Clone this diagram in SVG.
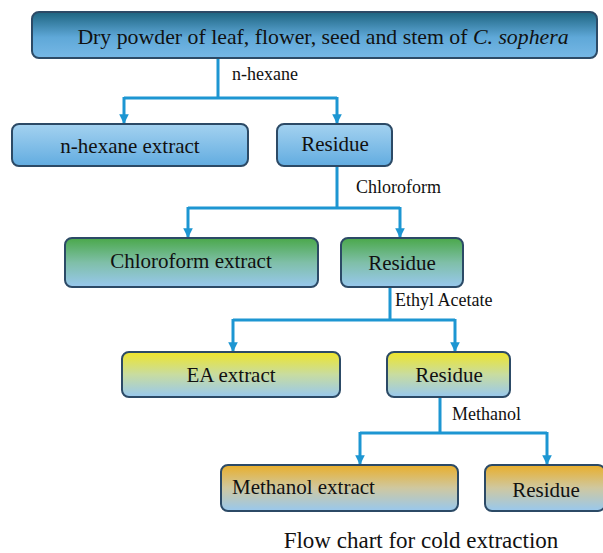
<svg xmlns="http://www.w3.org/2000/svg" width="603" height="553" viewBox="0 0 603 553">
<defs>
<linearGradient id="gTop" x1="0" y1="0" x2="0" y2="1"><stop offset="0" stop-color="#1d6480"/><stop offset="0.55" stop-color="#5fa8d8"/><stop offset="1" stop-color="#76b8e6"/></linearGradient>
<linearGradient id="gBlue" x1="0" y1="0" x2="0" y2="1"><stop offset="0" stop-color="#a4d2f0"/><stop offset="1" stop-color="#62ace0"/></linearGradient>
<linearGradient id="gGreen" x1="0" y1="0" x2="0" y2="1"><stop offset="0" stop-color="#4aa84a"/><stop offset="0.5" stop-color="#7fbfa8"/><stop offset="1" stop-color="#98c8ee"/></linearGradient>
<linearGradient id="gYellow" x1="0" y1="0" x2="0" y2="1"><stop offset="0" stop-color="#eee52a"/><stop offset="0.5" stop-color="#c8dca0"/><stop offset="1" stop-color="#98c8ee"/></linearGradient>
<linearGradient id="gOrange" x1="0" y1="0" x2="0" y2="1"><stop offset="0" stop-color="#e9ae2a"/><stop offset="0.5" stop-color="#cfc8a0"/><stop offset="1" stop-color="#98c8ee"/></linearGradient>
<marker id="arr" viewBox="0 0 10 10" refX="9" refY="5" markerWidth="3.2" markerHeight="3.2" orient="auto"><path d="M0,0 L10,5 L0,10 z" fill="#1d96d2"/></marker>
</defs>
<style>
.box{stroke:#2c4a66;stroke-width:2}
text{font-family:'Liberation Serif','Times New Roman',serif;fill:#111111}
.t{font-size:21px;text-anchor:middle}
.ts{font-size:21px;text-anchor:start}
.lbl{font-size:18px}
.c{fill:none;stroke:#1d96d2;stroke-width:3}
.a{fill:none;stroke:#1d96d2;stroke-width:3;marker-end:url(#arr)}
</style>
<rect width="603" height="553" fill="#ffffff"/>
<g id="connectors">
<path class="c" d="M218,58 V98 M124,98 H337"/>
<path class="a" d="M124,97 V123"/>
<path class="a" d="M337,97 V123"/>
<path class="c" d="M337,166 V208 M188,208 H400"/>
<path class="a" d="M188,207 V237"/>
<path class="a" d="M400,207 V237"/>
<path class="c" d="M390,287 V320 M233,320 H455"/>
<path class="a" d="M233,319 V351"/>
<path class="a" d="M455,319 V351"/>
<path class="c" d="M440,397 V433 M360,433 H547"/>
<path class="a" d="M360,432 V464"/>
<path class="a" d="M547,432 V464"/>
</g>
<g id="labels">
<text class="lbl" x="232" y="80">n-hexane</text>
<text class="lbl" x="356" y="193">Chloroform</text>
<text class="lbl" x="395" y="306">Ethyl Acetate</text>
<text class="lbl" x="452" y="420">Methanol</text>
</g>
<g id="n0"><rect class="box" x="32" y="12" width="565" height="46" rx="7" fill="url(#gTop)"/><text class="t" x="323" y="44" style="font-size:21.8px">Dry powder of leaf, flower, seed and stem  of <tspan font-style="italic">C. sophera</tspan></text></g>
<g id="n1"><rect class="box" x="12" y="124" width="236" height="42" rx="7" fill="url(#gBlue)"/><text class="t" x="130" y="153">n-hexane extract</text></g>
<g id="n2"><rect class="box" x="277" y="124" width="115" height="42" rx="7" fill="url(#gBlue)"/><text class="t" x="335" y="151">Residue</text></g>
<g id="n3"><rect class="box" x="65" y="238" width="253" height="49" rx="7" fill="url(#gGreen)"/><text class="t" x="191" y="268">Chloroform extract</text></g>
<g id="n4"><rect class="box" x="341" y="238" width="122" height="49" rx="7" fill="url(#gGreen)"/><text class="t" x="402" y="270">Residue</text></g>
<g id="n5"><rect class="box" x="122" y="352" width="218" height="45" rx="7" fill="url(#gYellow)"/><text class="t" x="231" y="382">EA extract</text></g>
<g id="n6"><rect class="box" x="387" y="352" width="123" height="45" rx="7" fill="url(#gYellow)"/><text class="t" x="449" y="382">Residue</text></g>
<g id="n7"><rect class="box" x="221" y="465" width="237" height="46" rx="7" fill="url(#gOrange)"/><text class="ts" x="232" y="494">Methanol extract</text></g>
<g id="n8"><rect class="box" x="485" y="465" width="120" height="46" rx="7" fill="url(#gOrange)"/><text class="t" x="546" y="497">Residue</text></g>
<text x="421" y="548" style="font-size:23px;text-anchor:middle">Flow chart for cold extraction</text>
</svg>
